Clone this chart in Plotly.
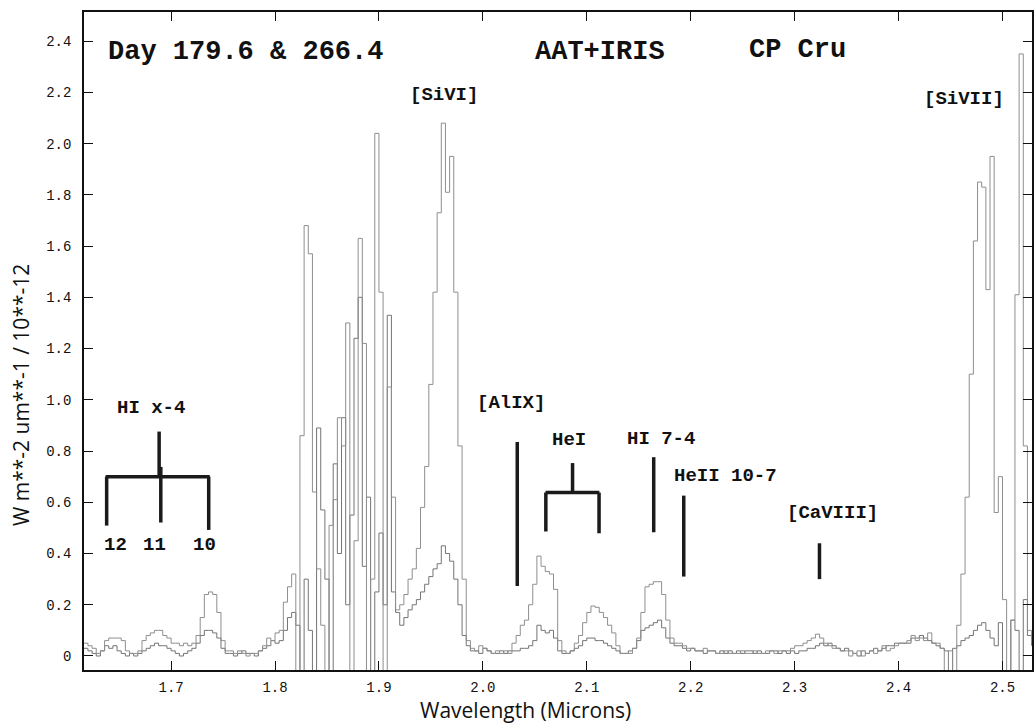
import numpy as np
import plotly.graph_objects as go

# Wavelength grid (microns): left edge of the first bin and bin width
WL_START = 1.616
WL_STEP = 0.004

# Flux, W m^-2 um^-1 / 1e-12 -- epoch with the stronger coronal lines
flux_a = [
    0.05, 0.04, 0.03, 0.01, 0.02, 0.06, 0.07, 0.07, 0.07, 0.06,
    0.02, 0.01, 0.01, 0.02, 0.06, 0.08, 0.09, 0.10, 0.10, 0.08,
    0.07, 0.05, 0.05, 0.04, 0.05, 0.04, 0.05, 0.08, 0.15, 0.24,
    0.25, 0.24, 0.17, 0.06, 0.02, 0.02, 0.01, 0.02, 0.01, 0.00,
    0.01, 0.01, 0.02, 0.04, 0.07, 0.06, 0.09,
    # 1.804 - 1.916 (between the atmospheric windows)
    0.10, 0.21, 0.27, 0.32, -0.07, 0.86, 1.68, 1.57, 0.64, 0.34,
    0.12, -0.07, 0.51, 0.61, 0.93, 0.82, 1.30, -0.07, 0.45, 1.63,
    1.22, -0.07, 0.30, 2.04, 1.42, -0.07, 1.05, 0.62, 0.18,
    # 1.920 - 1.988 ([SiVI])
    0.20, 0.24, 0.30, 0.34, 0.42, 0.58, 0.74, 1.06, 1.42, 1.73,
    2.08, 1.81, 1.95, 1.42, 0.82, 0.30, 0.06, 0.03,
    # 1.992 - 2.440
    0.02, 0.04, 0.03, 0.02, 0.01, 0.02, 0.01, 0.02, 0.01, 0.05,
    0.08, 0.12, 0.14, 0.20, 0.28, 0.39, 0.35, 0.33, 0.32, 0.26,
    0.06, 0.02, 0.01, 0.02, 0.05, 0.08, 0.13, 0.17, 0.195, 0.19,
    0.17, 0.15, 0.12, 0.09, 0.04, 0.01, 0.01, 0.01, 0.03, 0.07,
    0.17, 0.27, 0.28, 0.29, 0.29, 0.24, 0.14, 0.07, 0.05, 0.05,
    0.04, 0.03, 0.03, 0.02, 0.02, 0.03, 0.02, 0.02, 0.01, 0.01,
    0.02, 0.01, 0.01, 0.01, 0.02, 0.01, 0.01, 0.02, 0.01, 0.01,
    0.02, 0.02, 0.01, 0.02, 0.02, 0.02, 0.03, 0.04, 0.04, 0.05,
    0.06, 0.07, 0.085, 0.07, 0.05, 0.04, 0.03, 0.03, 0.02, 0.02,
    0.00, 0.01, 0.02, 0.00, 0.01, 0.02, 0.01, 0.02, 0.04, 0.02,
    0.03, 0.04, 0.05, 0.05, 0.06, 0.08, 0.06, 0.07, 0.06, 0.09,
    0.05, 0.05, 0.03,
    # 2.444 - 2.528 ([SiVII])
    -0.07, 0.02, -0.07, 0.12, 0.32, 0.62, 1.10, 1.62, 1.85, 1.83,
    1.43, 1.95, 0.56, 0.70, 0.22, -0.07, 0.14, 1.41, 2.35, 0.82,
    0.10, 0.05,
]

# Flux for the later epoch
flux_b = [
    0.03, 0.02, 0.01, 0.00, 0.02, 0.04, 0.03, 0.04, 0.02, 0.01,
    0.00, 0.01, 0.00, 0.01, 0.02, 0.03, 0.04, 0.05, 0.04, 0.04,
    0.03, 0.02, 0.01, 0.00, 0.01, 0.02, 0.03, 0.05, 0.08, 0.10,
    0.10, 0.09, 0.07, 0.03, 0.01, 0.01, 0.00, 0.01, 0.02, 0.01,
    0.01, 0.00, 0.02, 0.03, 0.04, 0.06, 0.05,
    # 1.804 - 1.916
    0.06, 0.10, 0.15, 0.17, 0.12, -0.07, 0.30, 0.10, -0.07, 0.89,
    0.57, 0.30, -0.07, 0.75, 0.40, 0.93, 0.20, 0.55, 1.24, 1.40,
    0.35, 0.62, -0.07, 0.25, 0.48, 0.20, 1.33, 0.25, 0.17,
    # 1.920 - 1.988
    0.12, 0.15, 0.18, 0.20, 0.22, 0.25, 0.28, 0.31, 0.34, 0.36,
    0.43, 0.40, 0.37, 0.30, 0.20, 0.08, 0.04, 0.02,
    # 1.992 - 2.440
    0.02, 0.01, 0.03, 0.02, 0.01, 0.01, 0.02, 0.01, 0.02, 0.02,
    0.02, 0.03, 0.03, 0.04, 0.06, 0.12, 0.10, 0.09, 0.10, 0.07,
    0.02, 0.01, 0.01, 0.02, 0.03, 0.04, 0.06, 0.07, 0.07, 0.06,
    0.06, 0.05, 0.04, 0.03, 0.02, 0.01, 0.01, 0.02, 0.03, 0.06,
    0.10, 0.11, 0.12, 0.13, 0.14, 0.11, 0.07, 0.05, 0.04, 0.04,
    0.03, 0.02, 0.03, 0.02, 0.02, 0.01, 0.02, 0.02, 0.01, 0.02,
    0.01, 0.02, 0.01, 0.02, 0.01, 0.02, 0.02, 0.01, 0.02, 0.01,
    0.01, 0.02, 0.02, 0.01, 0.02, 0.01, 0.02, 0.01, 0.02, 0.02,
    0.03, 0.03, 0.04, 0.05, 0.04, 0.05, 0.04, 0.03, 0.02, 0.03,
    0.02, 0.01, 0.00, 0.02, 0.01, 0.02, 0.03, 0.02, 0.03, 0.04,
    0.04, 0.05, 0.05, 0.05, 0.05, 0.07, 0.07, 0.08, 0.07, 0.06,
    0.05, 0.04, 0.03,
    # 2.444 - 2.528
    0.02, -0.07, 0.03, 0.04, 0.06, 0.07, 0.08, 0.10, 0.12, 0.13,
    0.10, 0.07, 0.04, 0.13, -0.07, -0.07, 0.14, 0.10, -0.07, 0.22,
    0.08, 0.04,
]

# Line-identification ticks: wavelength, lower and upper flux of each bar
id_tick_wl = [1.6380, 1.6901, 1.7362, 1.6885, 2.0331, 2.0606, 2.1118, 2.0863, 2.1644, 2.1933, 2.3239]
id_tick_lo = [0.509, 0.521, 0.492, 0.700, 0.273, 0.486, 0.479, 0.638, 0.483, 0.310, 0.300]
id_tick_hi = [0.700, 0.738, 0.700, 0.876, 0.835, 0.638, 0.638, 0.753, 0.776, 0.626, 0.440]

# Horizontal bars joining multiplet members
bar_wl_from = [1.6370, 2.0603]
bar_wl_to = [1.7372, 2.1121]
bar_level = [0.700, 0.638]

# Line labels
label_text = ["[SiVI]", "[SiVII]", "HI x-4", "12", "11", "10",
              "[AlIX]", "HeI", "HI 7-4", "HeII 10-7", "[CaVIII]"]
label_wl = [1.9628, 2.4631, 1.6805, 1.6469, 1.6843, 1.7324,
            2.0267, 2.0833, 2.1716, 2.2332, 2.3364]
label_flux = [2.189, 2.176, 0.969, 0.434, 0.434, 0.434,
              0.989, 0.844, 0.846, 0.704, 0.560]

# Header texts
header_text = ["Day 179.6 &amp; 266.4", "AAT+IRIS", "CP Cru"]
header_wl = [1.6374, 2.0482, 2.2538]
header_flux = [2.359, 2.357, 2.367]

x_ticks = [1.7, 1.8, 1.9, 2.0, 2.1, 2.2, 2.3, 2.4, 2.5]
x_tick_text = ["1.7", "1.8", "1.9", "2.0", "2.1", "2.2", "2.3", "2.4", "2.5"]
y_ticks = [0, 0.2, 0.4, 0.6, 0.8, 1.0, 1.2, 1.4, 1.6, 1.8, 2.0, 2.2, 2.4]
y_tick_text = ["0", "0.2", "0.4", "0.6", "0.8", "1.0", "1.2", "1.4", "1.6",
               "1.8", "2.0", "2.2", "2.4"]

MONO = "Liberation Mono, Courier New, monospace"
SANS = "Open Sans, Noto Sans, sans-serif"

wl_a = WL_START + WL_STEP * np.arange(len(flux_a))
wl_b = WL_START + WL_STEP * np.arange(len(flux_b))

fig = go.Figure()
fig.add_trace(go.Scatter(x=wl_b, y=flux_b, mode="lines", line_shape="hv",
                         line=dict(color="#747474", width=1), hoverinfo="skip"))
fig.add_trace(go.Scatter(x=wl_a, y=flux_a, mode="lines", line_shape="hv",
                         line=dict(color="#8e8e8e", width=1), hoverinfo="skip"))

for wl, lo, hi in zip(id_tick_wl, id_tick_lo, id_tick_hi):
    fig.add_shape(type="line", xref="x", yref="y", x0=wl, x1=wl, y0=lo, y1=hi,
                  line=dict(color="#1a1a1a", width=3.5))
for w0, w1, lev in zip(bar_wl_from, bar_wl_to, bar_level):
    fig.add_shape(type="line", xref="x", yref="y", x0=w0, x1=w1, y0=lev, y1=lev,
                  line=dict(color="#1a1a1a", width=3.5))

for txt, wl, fl in zip(label_text, label_wl, label_flux):
    fig.add_annotation(x=wl, y=fl, xref="x", yref="y", text=f"<b>{txt}</b>",
                       showarrow=False, xanchor="center", yanchor="middle",
                       font=dict(family=MONO, size=19, color="#111111"))

for txt, wl, fl in zip(header_text, header_wl, header_flux):
    fig.add_annotation(x=wl, y=fl, xref="x", yref="y", text=f"<b>{txt}</b>",
                       showarrow=False, xanchor="left", yanchor="middle",
                       font=dict(family=MONO, size=27, color="#111111"))

# Axis titles
fig.add_annotation(x=0.4658, y=-0.0845, xref="paper", yref="paper",
                   text="Wavelength (Microns)", showarrow=False,
                   xanchor="center", yanchor="bottom",
                   font=dict(family=SANS, size=21, color="#111111"))
fig.add_annotation(x=-0.0663, y=0.418, xref="paper", yref="paper",
                   text="W m**-2 um**-1 / 10**-12", showarrow=False, textangle=-90,
                   xanchor="center", yanchor="middle",
                   font=dict(family=SANS, size=21, color="#111111"))

axis_common = dict(showline=True, linecolor="#111111", linewidth=1.5,
                   mirror="ticks", ticks="inside", ticklen=9, tickwidth=1.2,
                   tickcolor="#111111", showgrid=False, zeroline=False,
                   tickfont=dict(family=MONO, size=14, color="#111111"))

fig.update_xaxes(range=[1.6162, 2.5284], tickmode="array", tickvals=x_ticks,
                 ticktext=x_tick_text, ticklabelstandoff=3, **axis_common)
fig.update_yaxes(range=[-0.0547, 2.5137], tickmode="array", tickvals=y_ticks,
                 ticktext=y_tick_text, ticklabelstandoff=8, **axis_common)

fig.update_layout(width=1034, height=726, showlegend=False,
                  margin=dict(l=84, r=0, t=12, b=56),
                  paper_bgcolor="white", plot_bgcolor="white")

fig.write_html("out.html")
